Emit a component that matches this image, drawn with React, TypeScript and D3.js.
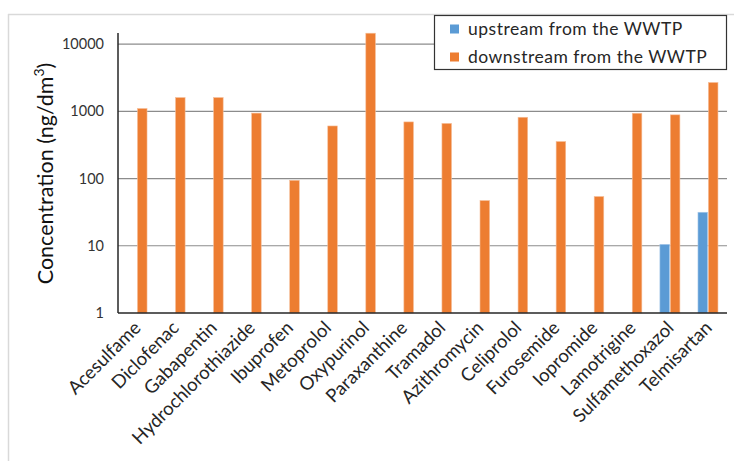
import React from "react";
import * as d3 from "d3";

// Compounds measured, in display order
const compounds = [
  "Acesulfame",
  "Diclofenac",
  "Gabapentin",
  "Hydrochlorothiazide",
  "Ibuprofen",
  "Metoprolol",
  "Oxypurinol",
  "Paraxanthine",
  "Tramadol",
  "Azithromycin",
  "Celiprolol",
  "Furosemide",
  "Iopromide",
  "Lamotrigine",
  "Sulfamethoxazol",
  "Telmisartan",
];

// Concentrations in ng/dm3 (null = not detected)
const upstream: (number | null)[] = [
  null, null, null, null, null, null, null, null,
  null, null, null, null, null, null, 10.5, 31.5,
];
const downstream: (number | null)[] = [
  1100, 1600, 1600, 940, 94, 605, 14500, 695,
  660, 47, 815, 355, 54, 935, 885, 2680,
];

const seriesNames = ["upstream from the WWTP", "downstream from the WWTP"];
const seriesColors = ["#5b9bd5", "#ed7d31"];
const yTicks = [1, 10, 100, 1000, 10000];

const W = 734;
const H = 461;
const left = 118;
const right = 727;
const bottom = 313;
const top = 33;

const FONT = "Lato, 'Open Sans', sans-serif";

export default function App() {
  const x = d3.scaleBand<string>().domain(compounds).range([left, right]);
  const sub = d3.scaleBand<number>().domain([0, 1]).range([-10, 10]).paddingInner(0.08);
  const y = d3.scaleLog().domain([1, 14600]).range([bottom, top]);

  const series = [upstream, downstream];

  return (
    <svg
      width={W}
      height={H}
      style={{ position: "absolute", left: 0, top: 0, background: "#fff" }}
      fontFamily={FONT}
    >
      {/* outer frame */}
      <line x1={8.5} y1={14} x2={8.5} y2={H} stroke="#d9d9d9" strokeWidth={1.5} />
      <line x1={8} y1={14.5} x2={W} y2={14.5} stroke="#d9d9d9" strokeWidth={1.5} />

      {/* gridlines */}
      {yTicks.slice(1).map((t) => (
        <line
          key={t}
          x1={left}
          x2={right}
          y1={y(t)}
          y2={y(t)}
          stroke="#8c8c8c"
          strokeWidth={1.2}
        />
      ))}

      {/* bars */}
      {series.map((vals, si) =>
        compounds.map((c, i) => {
          const v = vals[i];
          if (v == null) return null;
          const cx = (x(c) ?? 0) + x.bandwidth() / 2;
          const bx = cx + (sub(si) ?? 0);
          const by = y(v);
          return (
            <rect
              key={`${si}-${c}`}
              x={bx}
              y={by}
              width={sub.bandwidth()}
              height={bottom - by}
              fill={seriesColors[si]}
              stroke={si === 0 ? "#a9c9ea" : "#f6bf9a"}
              strokeWidth={0.6}
            />
          );
        })
      )}

      {/* axes */}
      <line x1={left} x2={left} y1={top} y2={bottom} stroke="#262626" strokeWidth={1.5} />
      <line x1={left} x2={right} y1={bottom} y2={bottom} stroke="#262626" strokeWidth={1.5} />

      {/* y tick labels */}
      {yTicks.map((t) => (
        <text
          key={t}
          x={104}
          y={y(t)}
          dy="0.35em"
          textAnchor="end"
          fontSize={14.5}
          fill="#333"
        >
          {t}
        </text>
      ))}

      {/* x labels */}
      {compounds.map((c) => {
        const cx = (x(c) ?? 0) + x.bandwidth() / 2 + 5;
        const cy = 329;
        return (
          <text
            key={c}
            x={cx}
            y={cy}
            textAnchor="end"
            fontSize={18.5}
            fill="#262626"
            transform={`rotate(-45, ${cx}, ${cy})`}
          >
            {c}
          </text>
        );
      })}

      {/* y axis title */}
      <text
        transform={`translate(53, ${(57 + 290) / 2}) rotate(-90)`}
        textAnchor="middle"
        fontSize={21.5}
        fill="#111"
      >
        Concentration (ng/dm
        <tspan fontSize={14} dy={-9}>
          3
        </tspan>
        <tspan dy={9}>)</tspan>
      </text>

      {/* legend */}
      <rect x={434.5} y={15.5} width={292} height={54} fill="#fff" stroke="#333" strokeWidth={1.2} />
      {seriesNames.map((n, i) => (
        <g key={n} transform={`translate(450, ${29 + i * 28})`}>
          <rect x={0} y={-4.5} width={9} height={9} fill={seriesColors[i]} />
          <text x={18} y={0} dy="0.35em" fontSize={17.5} fill="#262626" letterSpacing={0.5}>
            {n}
          </text>
        </g>
      ))}
    </svg>
  );
}
